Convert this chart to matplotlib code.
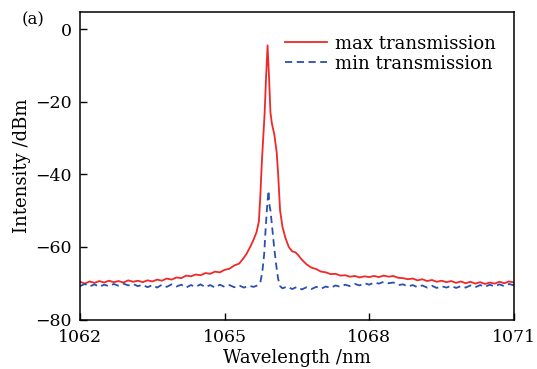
import matplotlib.pyplot as plt

# --- Data ---
wl_max = [
    1062.0, 1062.1, 1062.2, 1062.3, 1062.4, 1062.5, 1062.6, 1062.7, 1062.8, 1062.9,
    1063.0, 1063.1, 1063.2, 1063.3, 1063.4, 1063.5, 1063.6, 1063.7, 1063.8, 1063.9,
    1064.0, 1064.1, 1064.2, 1064.3, 1064.4, 1064.5, 1064.6, 1064.7, 1064.8, 1064.9,
    1065.0, 1065.1, 1065.2, 1065.3, 1065.38, 1065.45, 1065.53, 1065.6, 1065.66, 1065.71,
    1065.74, 1065.77, 1065.8, 1065.83, 1065.86, 1065.89, 1065.92, 1065.95, 1065.98, 1066.03,
    1066.08, 1066.11, 1066.15, 1066.2, 1066.26, 1066.33, 1066.4, 1066.47, 1066.53, 1066.58,
    1066.63, 1066.7, 1066.8, 1066.9, 1067.0, 1067.1, 1067.2, 1067.3, 1067.4, 1067.5,
    1067.6, 1067.7, 1067.8, 1067.9, 1068.0, 1068.1, 1068.2, 1068.3, 1068.4, 1068.5,
    1068.6, 1068.7, 1068.8, 1068.9, 1069.0, 1069.1, 1069.2, 1069.3, 1069.4, 1069.5,
    1069.6, 1069.7, 1069.8, 1069.9, 1070.0, 1070.1, 1070.2, 1070.3, 1070.4, 1070.5,
    1070.6, 1070.7, 1070.8, 1070.9, 1071.0,
]
p_max = [
    -69.6, -70.1, -69.5, -69.9, -69.4, -69.8, -69.3, -69.7, -69.4, -69.8,
    -69.2, -69.6, -69.3, -69.7, -69.2, -69.5, -69.0, -69.3, -68.7, -69.0,
    -68.4, -68.6, -67.9, -68.1, -67.6, -67.8, -67.2, -67.4, -66.8, -67.0,
    -66.3, -66.0, -65.1, -64.6, -63.3, -62.0, -60.0, -58.0, -56.0, -53.0,
    -46.0, -37.0, -30.0, -23.0, -13.0, -4.5, -13.0, -23.0, -26.0, -29.0,
    -34.0, -40.0, -50.0, -54.5, -57.5, -60.0, -61.2, -61.5, -62.3, -63.2,
    -63.9, -64.8, -65.7, -66.1, -66.8, -67.0, -67.5, -67.4, -67.9, -67.8,
    -68.2, -68.0, -68.4, -68.1, -68.3, -68.0, -68.3, -67.9, -68.2, -68.0,
    -68.5, -68.6, -68.9, -68.7, -69.2, -68.9, -69.4, -69.1, -69.6, -69.3,
    -69.7, -69.4, -69.9, -69.5, -70.0, -69.6, -70.1, -69.7, -70.2, -69.8,
    -70.1, -69.6, -70.0, -69.5, -69.8,
]

wl_min = [
    1062.0, 1062.1, 1062.2, 1062.3, 1062.4, 1062.5, 1062.6, 1062.7, 1062.8, 1062.9,
    1063.0, 1063.1, 1063.2, 1063.3, 1063.4, 1063.5, 1063.6, 1063.7, 1063.8, 1063.9,
    1064.0, 1064.1, 1064.2, 1064.3, 1064.4, 1064.5, 1064.6, 1064.7, 1064.8, 1064.9,
    1065.0, 1065.1, 1065.2, 1065.3, 1065.4, 1065.5, 1065.6, 1065.68, 1065.74, 1065.78,
    1065.82, 1065.85, 1065.88, 1065.91, 1065.93, 1065.95, 1065.97, 1066.0, 1066.03, 1066.07,
    1066.11, 1066.15, 1066.2, 1066.3, 1066.4, 1066.5, 1066.6, 1066.7, 1066.8, 1066.9,
    1067.0, 1067.1, 1067.2, 1067.3, 1067.4, 1067.5, 1067.6, 1067.7, 1067.8, 1067.9,
    1068.0, 1068.1, 1068.2, 1068.3, 1068.4, 1068.5, 1068.6, 1068.7, 1068.8, 1068.9,
    1069.0, 1069.1, 1069.2, 1069.3, 1069.4, 1069.5, 1069.6, 1069.7, 1069.8, 1069.9,
    1070.0, 1070.1, 1070.2, 1070.3, 1070.4, 1070.5, 1070.6, 1070.7, 1070.8, 1070.9,
    1071.0,
]
p_min = [
    -70.8, -70.2, -70.9, -70.3, -71.0, -70.4, -70.8, -70.2, -70.7, -70.1,
    -70.6, -70.2, -70.8, -70.4, -71.1, -70.5, -71.2, -70.4, -71.0, -70.3,
    -70.9, -70.4, -71.2, -70.5, -71.0, -70.3, -71.1, -70.5, -71.2, -70.4,
    -71.0, -70.5, -71.1, -70.6, -71.2, -70.7, -71.0, -70.6, -69.8, -67.0,
    -62.0, -55.0, -49.0, -44.5, -48.5, -50.0, -52.5, -56.5, -60.5, -65.0,
    -68.8, -70.8, -71.4, -70.9, -71.6, -71.0, -71.7, -71.1, -71.6, -71.0,
    -71.5, -70.9, -71.3, -70.6, -71.0, -70.4, -70.8, -70.2, -70.6, -70.0,
    -70.4, -69.8, -70.1, -69.6, -70.0, -69.8, -70.5, -70.3, -70.9, -70.5,
    -71.1, -70.6, -71.2, -70.7, -71.3, -70.8, -71.2, -70.7, -71.3, -70.8,
    -71.2, -70.6, -71.1, -70.5, -71.0, -70.4, -70.9, -70.3, -70.8, -70.2,
    -70.6,
]

x_ticks = [1062, 1065, 1068, 1071]
y_ticks = [0, -20, -40, -60, -80]

plt.rcParams["font.family"] = ["DejaVu Serif"]
plt.rcParams["font.size"] = 12

fig = plt.figure(figsize=(5.37, 3.69), dpi=100)
ax = fig.add_axes([0.149, 0.134, 0.808, 0.8335])

ax.plot(wl_max, p_max, color="#f02828", lw=1.3, label="max transmission")
ax.plot(wl_min, p_min, color="#2a4fb0", lw=1.3, ls=(0, (4, 2.5)), label="min transmission")

ax.set_xlim(1062, 1071)
ax.set_ylim(-80, 4.7)
ax.set_xticks(x_ticks)
ax.set_yticks(y_ticks)
ax.tick_params(direction="in", length=5, width=1, labelsize=12.5)
ax.tick_params(axis="x", pad=7)
ax.tick_params(axis="y", pad=6)
for s in ax.spines.values():
    s.set_linewidth(1.1)

ax.set_xlabel("Wavelength /nm", fontsize=13, labelpad=2)
ax.set_ylabel("Intensity /dBm", fontsize=13, labelpad=3)

ax.legend(loc="upper right", bbox_to_anchor=(0.975, 0.95), borderaxespad=0,
          frameon=False, fontsize=13, handlelength=2.3,
          handletextpad=0.45, labelspacing=0.12)

fig.text(0.04, 0.945, "(a)", fontsize=12, va="center", ha="left")

plt.savefig("out.png", dpi=100)
plt.close()
